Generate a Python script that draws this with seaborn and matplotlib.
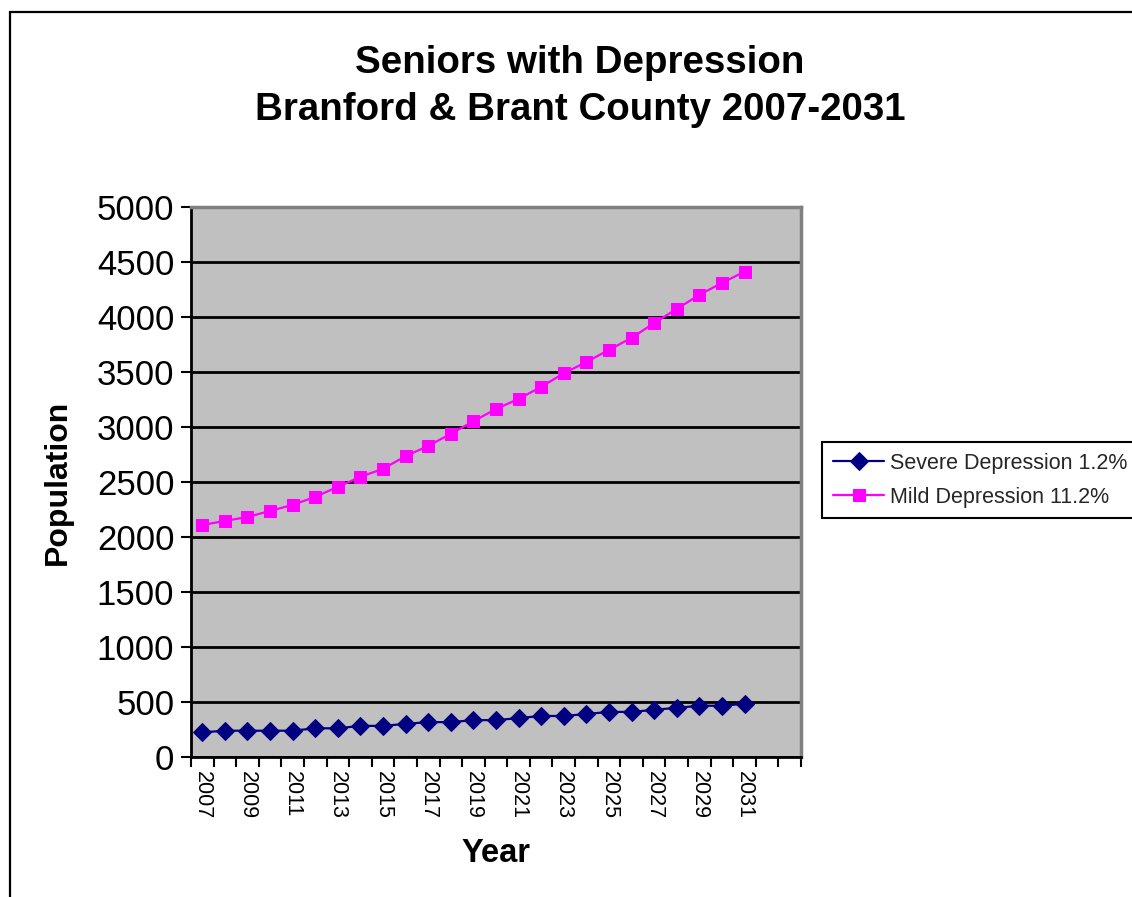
import matplotlib
matplotlib.use("Agg")
import matplotlib.pyplot as plt
import seaborn as sns
import pandas as pd
from matplotlib.patches import Rectangle
from matplotlib.ticker import FixedLocator, NullFormatter

# Category axis: 2007-2033, projections available through 2031
years = list(range(2007, 2034))
data_years = list(range(2007, 2032))

severe = [224, 239, 239, 239, 239, 261, 261, 283, 283, 301, 317, 317, 335,
          335, 354, 373, 373, 391, 410, 410, 429, 447, 466, 466, 484]
mild = [2109, 2146, 2182, 2237, 2292, 2365, 2456, 2547, 2620, 2735, 2828,
        2938, 3052, 3164, 3255, 3365, 3488, 3591, 3701, 3810, 3945, 4073,
        4201, 4310, 4412]

severe_label = "Severe Depression 1.2%"
mild_label = "Mild Depression 11.2%"

title_lines = ["Seniors with Depression", "Branford & Brant County 2007-2031"]

sns.set_theme(style="white")
plt.rcParams["font.family"] = ["Liberation Sans", "DejaVu Sans"]

W, H = 1132, 897
fig = plt.figure(figsize=(W / 100, H / 100), dpi=100)
fig.patch.set_facecolor("white")

# Outer chart frame (runs off the right and bottom edges)
fig.add_artist(Rectangle((10 / W, -0.1), 1.2, 1 - 12 / H + 0.1,
                         transform=fig.transFigure, fill=False,
                         edgecolor="black", linewidth=1.6))

left, right, top, bottom = 191, 801, 207, 757
ax = fig.add_axes([left / W, 1 - bottom / H, (right - left) / W, (bottom - top) / H])
ax.set_facecolor("#C0C0C0")

pos = {y: i for i, y in enumerate(years)}
df_sev = pd.DataFrame({"pos": [pos[y] for y in data_years], "value": severe})
df_mild = pd.DataFrame({"pos": [pos[y] for y in data_years], "value": mild})

sns.lineplot(data=df_sev, x="pos", y="value", ax=ax, color="#000080",
             marker="D", markersize=9, markeredgecolor="#000080",
             linewidth=1.6, label=severe_label, zorder=3)
sns.lineplot(data=df_mild, x="pos", y="value", ax=ax, color="#FF00FF",
             marker="s", markersize=9, markeredgecolor="#FF00FF",
             linewidth=1.6, label=mild_label, zorder=3)

# Y axis
ax.set_ylim(0, 5000)
ax.set_yticks(range(0, 5001, 500))
ax.yaxis.grid(True, color="black", linewidth=2)
ax.set_axisbelow(True)
ax.tick_params(axis="y", which="major", direction="out", length=7, width=1.5,
               color="black", labelsize=25, pad=5, left=True)
for t in ax.get_yticklabels():
    t.set_color("black")

# X axis: category slots with boundary ticks, every second year labelled
ax.set_xlim(-0.5, len(years) - 0.5)
label_pos = [pos[y] for y in data_years[::2]]
ax.set_xticks(label_pos)
ax.set_xticklabels([str(y) for y in data_years[::2]], rotation=270)
ax.xaxis.set_minor_locator(FixedLocator([i - 0.5 for i in range(len(years) + 1)]))
ax.xaxis.set_minor_formatter(NullFormatter())
ax.tick_params(axis="x", which="major", length=0, labelsize=15.5, pad=10,
               labelcolor="black")
ax.tick_params(axis="x", which="minor", direction="out", length=7, width=1.5,
               color="black", bottom=True)

for side in ["left", "bottom"]:
    ax.spines[side].set_color("black")
    ax.spines[side].set_linewidth(2)
for side in ["top", "right"]:
    ax.spines[side].set_color("#808080")
    ax.spines[side].set_linewidth(2.5)
    ax.spines[side].set_visible(True)

ax.set_xlabel("Year", fontsize=23.5, fontweight="bold", color="black")
ax.xaxis.set_label_coords(0.5, -0.147)
ax.set_ylabel("Population", fontsize=23, fontweight="bold", color="black")
ax.yaxis.set_label_coords(-0.193, 0.5)

for text, yc in zip(title_lines, [63, 110]):
    fig.text(580 / W, 1 - yc / H, text, ha="center", va="center",
             fontsize=27.7, fontweight="bold", color="black")

leg = ax.legend(loc="upper left", bbox_to_anchor=(822 / W, 1 - 442 / H),
                bbox_transform=fig.transFigure, fontsize=15.5, frameon=True,
                fancybox=False, edgecolor="black", framealpha=1,
                borderpad=0.5, labelspacing=0.6, handlelength=2.4,
                handletextpad=0.25, borderaxespad=0)
leg.get_frame().set_linewidth(1.5)

fig.savefig("out.png", dpi=100, facecolor="white")
